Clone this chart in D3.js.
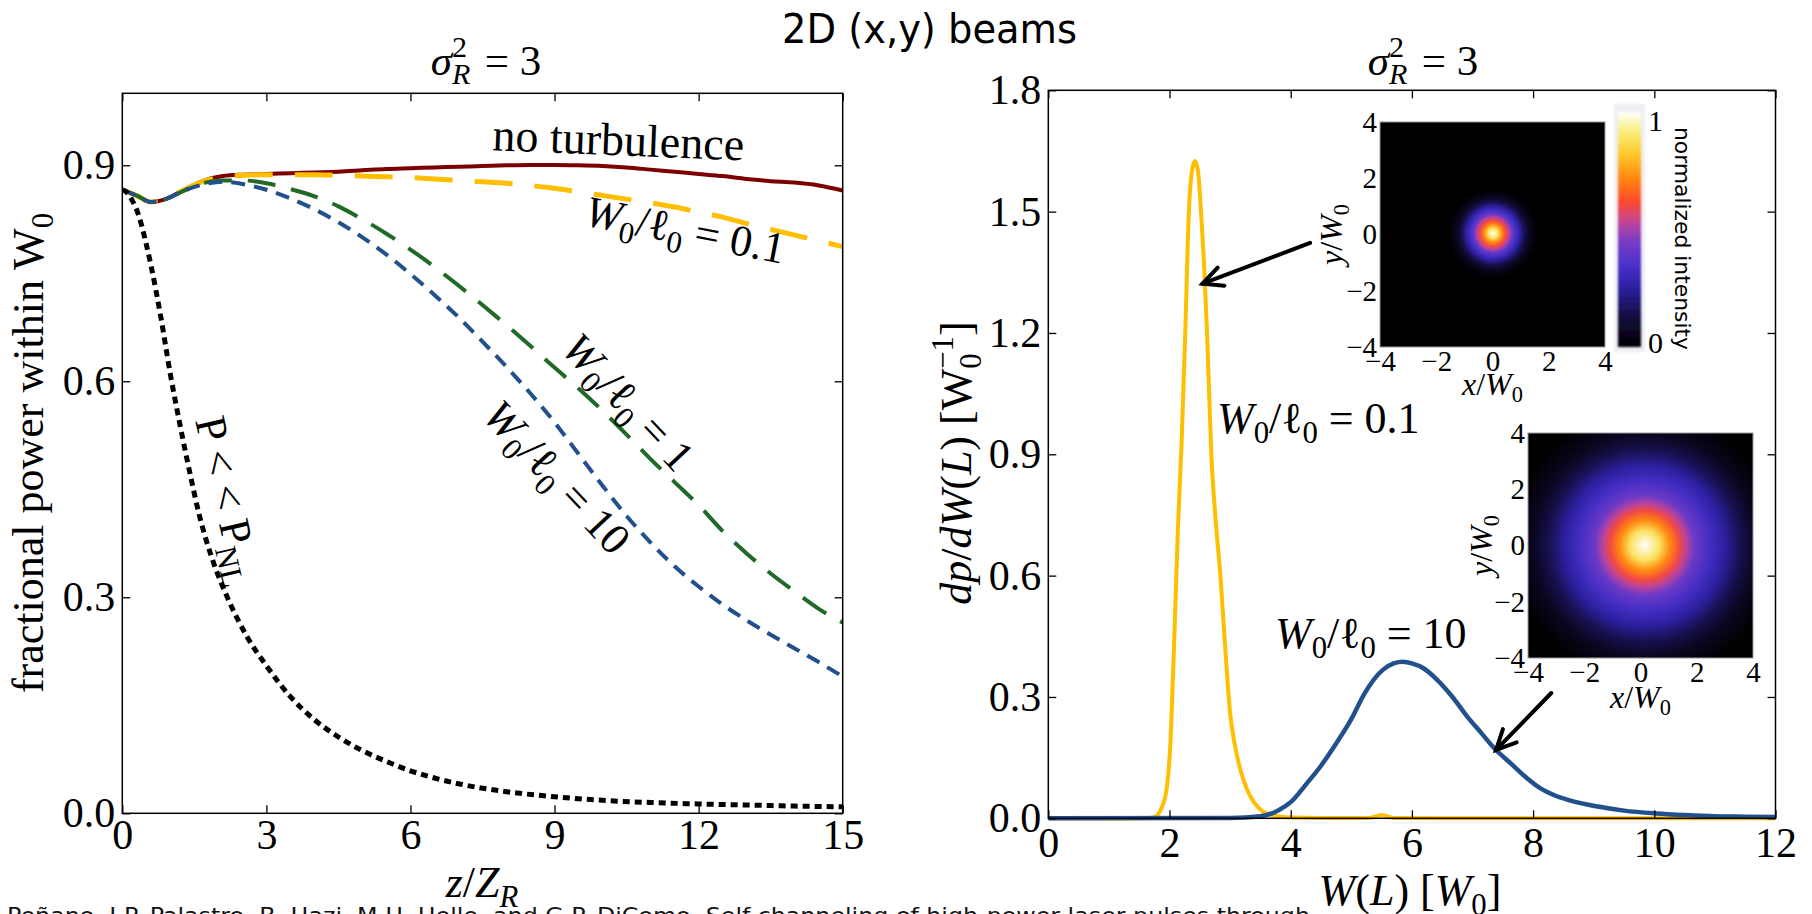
<!DOCTYPE html>
<html><head><meta charset="utf-8">
<script src="https://cdn.jsdelivr.net/npm/d3@7"></script>
<style>body{margin:0;background:#fff;overflow:hidden}svg{display:block}</style>
</head><body>
<svg id="chart" width="1812" height="914"></svg>
<script>
// ---------------- DATA ----------------
// Left panel: fractional power within W0 vs z/Z_R
const zGrid = [0,0.3,0.6,0.9,1.2,1.5,1.8,2.1,2.5,3,3.5,4,4.5,5,5.5,6,6.5,7,7.5,8,8.5,9,9.5,10,10.5,11,11.5,12,12.5,13,13.5,14,14.5,15];
const noTurbulence = [0.866,0.858,0.849,0.853,0.863,0.873,0.881,0.885,0.887,0.888,0.889,0.890,0.891,0.893,0.895,0.896,0.897,0.898,0.899,0.900,0.9005,0.9005,0.900,0.899,0.897,0.894,0.891,0.888,0.885,0.881,0.878,0.876,0.872,0.865];
const ratio01 = [0.866,0.858,0.849,0.853,0.863,0.873,0.880,0.884,0.886,0.887,0.887,0.887,0.886,0.885,0.884,0.883,0.881,0.879,0.877,0.875,0.872,0.868,0.863,0.858,0.853,0.848,0.842,0.835,0.828,0.819,0.811,0.803,0.795,0.787];
const ratio1 = [0.866,0.858,0.849,0.853,0.862,0.871,0.877,0.879,0.879,0.875,0.867,0.857,0.843,0.825,0.805,0.783,0.759,0.733,0.706,0.678,0.649,0.619,0.590,0.559,0.526,0.492,0.460,0.428,0.392,0.361,0.333,0.308,0.284,0.265];
const ratio10 = [0.866,0.858,0.849,0.853,0.862,0.870,0.875,0.877,0.874,0.866,0.854,0.839,0.821,0.800,0.776,0.749,0.720,0.689,0.655,0.620,0.583,0.543,0.499,0.455,0.413,0.376,0.343,0.315,0.290,0.268,0.248,0.229,0.210,0.190];
const zLowP = [0,0.1,0.2,0.3,0.4,0.5,0.6,0.8,1.0,1.2,1.4,1.6,1.9,2.2,2.6,3.0,3.5,4.0,4.5,5,5.5,6,6.5,7,8,9,10,11,12,13,14,15];
const lowPower = [0.866,0.862,0.852,0.838,0.817,0.790,0.760,0.690,0.610,0.540,0.475,0.415,0.348,0.298,0.245,0.205,0.162,0.130,0.106,0.087,0.072,0.059,0.049,0.041,0.030,0.023,0.018,0.015,0.013,0.0115,0.010,0.009];
const leftXTicks = [0,3,6,9,12,15];
const leftYTicks = [0,0.3,0.6,0.9];

// Right panel: dp/dW(L) vs W(L)
const wGold = [0,1.6,1.75,1.85,1.95,2.02,2.08,2.14,2.2,2.26,2.32,2.37,2.42,2.47,2.52,2.57,2.62,2.69,2.76,2.84,2.92,3.0,3.08,3.17,3.27,3.4,3.55,3.75,4.0,4.5,5.3,5.5,5.7,6.5,8,10,12];
const pdfRatio01 = [0,0,0.003,0.02,0.07,0.2,0.45,0.72,0.93,1.2,1.5,1.6,1.625,1.6,1.5,1.37,1.2,0.9,0.74,0.6,0.42,0.26,0.18,0.12,0.075,0.038,0.016,0.006,0.002,0.001,0.001,0.008,0.001,0,0,0,0];
const wBlue = [0,3.0,3.5,3.8,4.0,4.27,4.5,4.75,5.0,5.22,5.52,5.7,5.85,6.0,6.19,6.4,6.67,6.9,7.15,7.38,7.63,7.9,8.11,8.35,8.59,9.07,9.5,10.03,10.5,10.98,11.5,12];
const pdfRatio10 = [0,0.001,0.005,0.02,0.04,0.087,0.13,0.185,0.245,0.309,0.367,0.383,0.387,0.383,0.371,0.345,0.30,0.254,0.21,0.17,0.136,0.099,0.075,0.057,0.045,0.029,0.019,0.012,0.008,0.005,0.004,0.003];
const rightXTicks = [0,2,4,6,8,10,12];
const rightYTicks = [0,0.3,0.6,0.9,1.2,1.5,1.8];

// Insets
const insetTicks = [-4,-2,0,2,4];
const cmapPos = [0,0.12,0.25,0.35,0.45,0.53,0.62,0.72,0.82,0.92,1];
const cmapCol = ['#000000','#120c3a','#2c20a0','#4a32cc','#7a3cc4','#c0449a','#ff4a2a','#ff8a10','#ffc828','#f8f080','#ffffff'];
const narrowR = [0,0.11,0.2,0.29,0.36,0.42,0.51,0.6,0.69,0.8,0.98,1];
const narrowI = [1,0.88,0.72,0.6,0.52,0.42,0.33,0.25,0.15,0.07,0,0];
const wideR = [0,0.107,0.18,0.25,0.3,0.357,0.464,0.571,0.68,0.786,0.964,1];
const wideI = [1,0.88,0.72,0.6,0.52,0.42,0.33,0.25,0.15,0.07,0,0];

// ---------------- DRAW ----------------
const svg = d3.select('#chart');
const SERIF = "'Liberation Serif','Times New Roman',serif";
const SANS = "'DejaVu Sans',Verdana,sans-serif";
const defs = svg.append('defs');

const L = {x0:122.3, x1:842.7, y0:93.3, y1:813.3};
const R = {x0:1048.3, x1:1775.5, y0:90.3, y1:818.3};
const xL = d3.scaleLinear().domain([0,15]).range([L.x0,L.x1]);
const yL = d3.scaleLinear().domain([0,1]).range([L.y1,L.y0]);
const xR = d3.scaleLinear().domain([0,12]).range([R.x0,R.x1]);
const yR = d3.scaleLinear().domain([0,1.8]).range([R.y1,R.y0]);

function mtext(parent, fs, parts) {
  const t = parent.append('text').attr('font-family', SERIF).attr('font-size', fs).attr('fill','#000');
  let cur = 0;
  parts.forEach(p => {
    const [str, st, extra] = p;
    let off = 0, size = fs;
    if (st.indexOf('sub') >= 0) { off = 0.22*fs; size = 0.7*fs; }
    if (st.indexOf('sup') >= 0) { off = -0.42*fs; size = 0.7*fs; }
    const ts = t.append('tspan').text(str).attr('font-size', size).attr('font-family', SERIF);
    if (off !== cur) { ts.attr('dy', off-cur); cur = off; }
    if (st === 'i' || st === 'subi' || st === 'supi') ts.attr('font-style','italic');
    if (extra) ts.attr('dx', extra*fs);
  });
  return t;
}

function axes(x, y, box, xt, yt, xpad) {
  const g = svg.append('g');
  const fmtY = d3.format('.1f');
  const ax = [
    g.append('g').attr('transform',`translate(0,${box.y1})`).call(d3.axisBottom(x).tickValues(xt).tickSizeInner(-8).tickSizeOuter(0).tickPadding(xpad).tickFormat(d3.format('d'))),
    g.append('g').attr('transform',`translate(0,${box.y0})`).call(d3.axisTop(x).tickValues(xt).tickSizeInner(-8).tickSizeOuter(0).tickFormat('')),
    g.append('g').attr('transform',`translate(${box.x0},0)`).call(d3.axisLeft(y).tickValues(yt).tickSizeInner(-8).tickSizeOuter(0).tickPadding(7).tickFormat(fmtY)),
    g.append('g').attr('transform',`translate(${box.x1},0)`).call(d3.axisRight(y).tickValues(yt).tickSizeInner(-8).tickSizeOuter(0).tickFormat(''))
  ];
  ax.forEach(a => {
    a.select('.domain').remove();
    a.selectAll('line').attr('stroke','#000').attr('stroke-width',1.3);
    a.selectAll('text').attr('font-family',SERIF).attr('font-size',42).attr('fill','#000');
  });
  g.append('rect').attr('x',box.x0).attr('y',box.y0).attr('width',box.x1-box.x0).attr('height',box.y1-box.y0)
    .attr('fill','none').attr('stroke','#000').attr('stroke-width',1.5);
  return g;
}

// clip paths
defs.append('clipPath').attr('id','clipL').append('rect').attr('x',L.x0).attr('y',L.y0-5).attr('width',L.x1-L.x0).attr('height',L.y1-L.y0+5);
defs.append('clipPath').attr('id','clipR').append('rect').attr('x',R.x0).attr('y',R.y0).attr('width',R.x1-R.x0).attr('height',R.y1-R.y0+3);

// ---------- Left panel ----------
const lineL = (xs) => d3.line().x((d,i)=>xL(xs[i])).y(d=>yL(d)).curve(d3.curveMonotoneX);
const gL = svg.append('g').attr('clip-path','url(#clipL)');
const leftSeries = [
  {xs:zGrid, ys:noTurbulence, color:'#7d0000', w:4, dash:null},
  {xs:zGrid, ys:ratio01, color:'#ffbe00', w:5, dash:'38,22'},
  {xs:zGrid, ys:ratio1, color:'#1f6a26', w:4, dash:'28,16'},
  {xs:zGrid, ys:ratio10, color:'#22508c', w:4, dash:'14,9'},
  {xs:zLowP, ys:lowPower, color:'#000000', w:5, dash:'7,5'}
];
leftSeries.forEach(s => {
  gL.append('path').datum(s.ys).attr('d', lineL(s.xs)).attr('fill','none')
    .attr('stroke', s.color).attr('stroke-width', s.w).attr('stroke-dasharray', s.dash);
});
axes(xL, yL, L, leftXTicks, leftYTicks, 6);

// ---------- Right panel ----------
const lineR = (xs) => d3.line().x((d,i)=>xR(xs[i])).y(d=>yR(d)).curve(d3.curveMonotoneX);
const gR = svg.append('g').attr('clip-path','url(#clipR)');
gR.append('path').datum(pdfRatio01).attr('d', lineR(wGold)).attr('fill','none').attr('stroke','#ffbe00').attr('stroke-width',4);
gR.append('path').datum(pdfRatio10).attr('d', lineR(wBlue)).attr('fill','none').attr('stroke','#22508c').attr('stroke-width',4.5);
axes(xR, yR, R, rightXTicks, rightYTicks, 9);

// ---------- Titles & labels ----------
svg.append('text').attr('x',782).attr('y',43).attr('font-family',SANS).attr('font-size',40)
  .attr('textLength',295).attr('lengthAdjust','spacingAndGlyphs').attr('fill','#000').text('2D (x,y) beams');

const sig = [['σ','i'],['2','sup'],['R','subi',-0.35],[' = 3','',0.08]];
mtext(svg, 43, sig).attr('x',486).attr('y',75).attr('text-anchor','middle');
mtext(svg, 43, sig).attr('x',1423).attr('y',75).attr('text-anchor','middle');

mtext(svg, 44, [['fractional power within W',''],['0','sub']]).attr('text-anchor','middle').attr('transform','translate(43,453) rotate(-90)');
mtext(svg, 44, [['z','i'],['/',''],['Z','i'],['R','subi']]).attr('text-anchor','middle').attr('x',482).attr('y',897);
mtext(svg, 44, [['dp','i'],['/',''],['dW','i'],['(',''],['L','i'],[')  [',''],['W',''],['0','sub'],['−1','sup',-0.35],[']','']])
  .attr('text-anchor','middle').attr('transform','translate(971,463) rotate(-90)');
mtext(svg, 44, [['W','i'],['(',''],['L','i'],[') [',''],['W','i'],['0','sub'],[']','']]).attr('text-anchor','middle').attr('x',1410).attr('y',905);

// annotations (data coordinates)
const ratioParts = (v) => [['W','i'],['0','sub'],['/',''],['ℓ',''],['0','sub'],[' = '+v,'']];
const annL = [
  {z:7.70, v:0.921, rot:2.3, parts:[['no turbulence','']], fs:46},
  {z:9.59, v:0.817, rot:11, parts:ratioParts('0.1'), fs:44},
  {z:9.11, v:0.6435, rot:47, parts:ratioParts('1'), fs:44},
  {z:7.47, v:0.5504, rot:47, parts:ratioParts('10'), fs:44},
  {z:1.514, v:0.546, rot:77, parts:[['P < < P',''],['NL','sub']], fs:44}
];
annL.forEach(a => mtext(svg, a.fs, a.parts).attr('transform',`translate(${xL(a.z)},${yL(a.v)}) rotate(${a.rot})`));
mtext(svg, 44, ratioParts('0.1')).attr('x',xR(2.784)).attr('y',yR(0.9528));
mtext(svg, 44, ratioParts('10')).attr('x',xR(3.741)).attr('y',yR(0.421));

// arrows
function arrow(w1,v1,w2,v2){
  const x1=xR(w1), y1=yR(v1), x2=xR(w2), y2=yR(v2);
  const a = Math.atan2(y1-y2, x1-x2), len = 22, sp = 0.45;
  const g = svg.append('g').attr('stroke','#000').attr('stroke-width',4).attr('stroke-linecap','round').attr('fill','none');
  g.append('line').attr('x1',x1).attr('y1',y1).attr('x2',x2).attr('y2',y2);
  g.append('path').attr('d',`M${x2+len*Math.cos(a+sp)},${y2+len*Math.sin(a+sp)} L${x2},${y2} L${x2+len*Math.cos(a-sp)},${y2+len*Math.sin(a-sp)}`).attr('stroke-linejoin','miter');
}
arrow(4.32,1.4226,2.545,1.3218);
arrow(8.30,0.3098,7.388,0.169);

// ---------- Insets ----------
const cmap = d3.scaleLinear().domain(cmapPos).range(cmapCol).interpolate(d3.interpolateRgb);
function radial(id, cx, cy, r, rs, is) {
  const gr = defs.append('radialGradient').attr('id',id).attr('gradientUnits','userSpaceOnUse')
    .attr('cx',cx).attr('cy',cy).attr('r',r);
  rs.forEach((o,i)=> gr.append('stop').attr('offset',o).attr('stop-color',cmap(is[i])));
}
function inset(x0,y0,s,id,cxv,cyv,r,rs,is,ylx,xly){
  const xi = d3.scaleLinear().domain([-4,4]).range([x0,x0+s]);
  const yi = d3.scaleLinear().domain([-4,4]).range([y0+s,y0]);
  radial(id, xi(cxv), yi(cyv), r, rs, is);
  svg.append('rect').attr('x',x0).attr('y',y0).attr('width',s).attr('height',s).attr('fill',`url(#${id})`)
    .attr('stroke','#9a9a9a').attr('stroke-width',1);
  const fmt = d => d < 0 ? '−'+Math.abs(d) : String(d);
  const a1 = svg.append('g').attr('transform',`translate(${x0},0)`).call(d3.axisLeft(yi).tickValues(insetTicks).tickSize(0).tickPadding(3).tickFormat(fmt));
  const a2 = svg.append('g').attr('transform',`translate(0,${y0+s})`).call(d3.axisBottom(xi).tickValues(insetTicks).tickSize(0).tickPadding(3).tickFormat(fmt));
  [a1,a2].forEach(a=>{ a.select('.domain').remove(); a.selectAll('text').attr('font-family',SERIF).attr('font-size',29).attr('fill','#000'); });
  mtext(svg, 32, [['x','i'],['/',''],['W','i'],['0','sub']]).attr('text-anchor','middle').attr('x',x0+s/2).attr('y',xly);
  mtext(svg, 32, [['y','i'],['/',''],['W','i'],['0','sub']]).attr('text-anchor','middle').attr('transform',`translate(${ylx},${y0+s/2}) rotate(-90)`);
}
inset(1380,122,225,'beamNarrow',0.02,0.04,45,narrowR,narrowI,1342,395);
inset(1528,433,225,'beamWide',0.15,0.0,140,wideR,wideI,1492,708);

// colorbar
const lg = defs.append('linearGradient').attr('id','cbar').attr('x1',0).attr('y1',1).attr('x2',0).attr('y2',0);
cmapPos.forEach((o,i)=> lg.append('stop').attr('offset',o).attr('stop-color',cmapCol[i]));
defs.append('filter').attr('id','soft').append('feGaussianBlur').attr('stdDeviation',1.2);
svg.append('rect').attr('x',1614).attr('y',104).attr('width',31).attr('height',248).attr('fill','#eeeef4').attr('filter','url(#soft)');
svg.append('rect').attr('x',1618).attr('y',112).attr('width',23).attr('height',235).attr('fill','url(#cbar)').attr('filter','url(#soft)');
svg.append('text').attr('x',1648).attr('y',131).attr('font-family',SERIF).attr('font-size',30).text('1');
svg.append('text').attr('x',1648).attr('y',353).attr('font-family',SERIF).attr('font-size',30).text('0');
svg.append('text').attr('transform','translate(1675,238.5) rotate(90)').attr('text-anchor','middle')
  .attr('font-family',SANS).attr('font-size',22).attr('textLength',223).attr('lengthAdjust','spacingAndGlyphs').text('normalized intensity');

// citation (cut at bottom edge)
svg.append('text').attr('x',7).attr('y',923).attr('font-family',SANS).attr('font-size',22).attr('fill','#111')
  .attr('textLength',1303).attr('lengthAdjust','spacingAndGlyphs')
  .text('Peñano, J.P. Palastro, B. Hazi, M.H. Helle, and G.P. DiComo, Self-channeling of high-power laser pulses through');
</script>
</body></html>
